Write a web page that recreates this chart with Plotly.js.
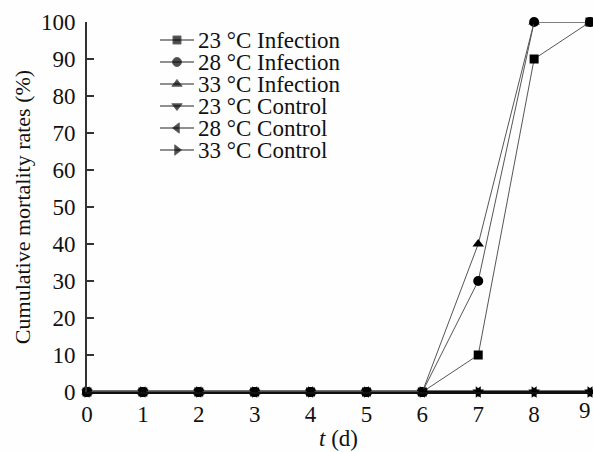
<!DOCTYPE html>
<html>
<head>
<meta charset="utf-8">
<script src="https://cdn.plot.ly/plotly-3.0.1.min.js"></script>
<style>
  html, body { margin: 0; padding: 0; background: #ffffff; }
  #chart { width: 593px; height: 452px; }
</style>
</head>
<body>
<div id="chart"></div>
<script>
// Days after challenge
var days = [0, 1, 2, 3, 4, 5, 6, 7, 8, 9];

// Cumulative mortality (%) per group
var infection23 = [0, 0, 0, 0, 0, 0, 0, 10, 90, 100];
var infection28 = [0, 0, 0, 0, 0, 0, 0, 30, 100, 100];
var infection33 = [0, 0, 0, 0, 0, 0, 0, 40, 100, 100];
var control23 = [0, 0, 0, 0, 0, 0, 0, 0, 0, 0];
var control28 = [0, 0, 0, 0, 0, 0, 0, 0, 0, 0];
var control33 = [0, 0, 0, 0, 0, 0, 0, 0, 0, 0];

var seriesNames = ['23 °C Infection', '28 °C Infection', '33 °C Infection',
                   '23 °C Control', '28 °C Control', '33 °C Control'];
var seriesValues = [infection23, infection28, infection33, control23, control28, control33];

var yTicks = [0, 10, 20, 30, 40, 50, 60, 70, 80, 90, 100];
var xTicks = [0, 1, 2, 3, 4, 5, 6, 7, 8, 9];

// Styling
var FONT = 'Liberation Serif, Times New Roman, serif';
var FS = 23;
var symbols = ['square', 'circle', 'triangle-up', 'triangle-down', 'triangle-left', 'triangle-right'];
var lineStyles = [
  {color: '#555555', width: 1},
  {color: '#555555', width: 1},
  {color: '#555555', width: 1},
  {color: '#111111', width: 2.5},
  {color: '#111111', width: 2.5},
  {color: '#111111', width: 2.5}
];
var markerSizes = [9, 10, 10, 10, 10, 10];
var keyMarkerSizes = [8, 9, 9, 9, 9, 9];

var M = {l: 87, r: 3, t: 22, b: 60};
var W = 593, H = 452;
var plotH = H - M.t - M.b;

var traces = [];
// Data series: controls first so the infection markers sit on top
[3, 4, 5, 0, 1, 2].forEach(function (i) {
  traces.push({
    x: days,
    y: seriesValues[i],
    name: seriesNames[i],
    type: 'scatter',
    mode: 'lines+markers',
    line: lineStyles[i],
    marker: {symbol: symbols[i], size: markerSizes[i], color: '#000000'},
    cliponaxis: false,
    showlegend: false,
    hoverinfo: 'skip'
  });
});

// Key drawn on a pixel-scaled overlay axis pair
var keyX0 = 160, keyX1 = 194, keyTextX = 196, keyY0 = 40, keyStep = 22;
var annotations = [];
seriesNames.forEach(function (name, i) {
  var yy = keyY0 + i * keyStep;
  traces.push({
    x: [keyX0, (keyX0 + keyX1) / 2, keyX1],
    y: [yy, yy, yy],
    xaxis: 'x2', yaxis: 'y2',
    type: 'scatter',
    mode: 'lines+markers',
    line: {color: '#222222', width: 1.2},
    marker: {symbol: symbols[i], size: [0, keyMarkerSizes[i], 0], color: '#000000'},
    cliponaxis: false,
    showlegend: false,
    hoverinfo: 'skip'
  });
  annotations.push({
    x: keyTextX, y: yy, xref: 'x2', yref: 'y2',
    text: name, showarrow: false,
    xanchor: 'left', yanchor: 'middle',
    height: 20, valign: 'middle',
    font: {family: FONT, size: FS, color: '#111111'}
  });
});

// Last day label, nudged left so it stays inside the figure edge
var lastDay = xTicks[xTicks.length - 1];
annotations.push({
  x: lastDay, y: -18 / plotH, xref: 'x', yref: 'paper',
  text: String(lastDay), showarrow: false,
  xanchor: 'center', yanchor: 'middle', xshift: -5,
  font: {family: FONT, size: FS, color: '#111111'}
});

var layout = {
  width: W, height: H,
  margin: M,
  paper_bgcolor: '#fefefe',
  plot_bgcolor: '#fefefe',
  showlegend: false,
  font: {family: FONT, size: FS, color: '#111111'},
  xaxis: {
    range: [0, 9],
    tickvals: xTicks.slice(0, -1),
    ticktext: xTicks.slice(0, -1).map(String),
    showgrid: false, zeroline: false,
    showline: true, linecolor: '#111111', linewidth: 2,
    ticks: '',
    tickfont: {family: FONT, size: FS, color: '#111111'},
    title: {text: '<i>t</i> (d)', font: {family: FONT, size: FS, color: '#111111'}, standoff: 4},
    fixedrange: true
  },
  yaxis: {
    range: [0, 100],
    tickvals: yTicks,
    ticktext: yTicks.map(String),
    showgrid: false, zeroline: false,
    showline: true, linecolor: '#333333', linewidth: 2,
    ticks: 'inside', ticklen: 7, tickwidth: 1.5, tickcolor: '#333333',
    ticklabelstandoff: 5,
    tickfont: {family: FONT, size: FS, color: '#111111'},
    title: {text: 'Cumulative mortality rates (%)', font: {family: FONT, size: 22, color: '#111111'}, standoff: 4},
    fixedrange: true
  },
  xaxis2: {
    overlaying: 'x', range: [M.l, W - M.r], visible: false, fixedrange: true
  },
  yaxis2: {
    overlaying: 'y', range: [H - M.b, M.t], visible: false, fixedrange: true
  },
  annotations: annotations
};

Plotly.newPlot('chart', traces, layout, {displayModeBar: false, staticPlot: true});
</script>
</body>
</html>
